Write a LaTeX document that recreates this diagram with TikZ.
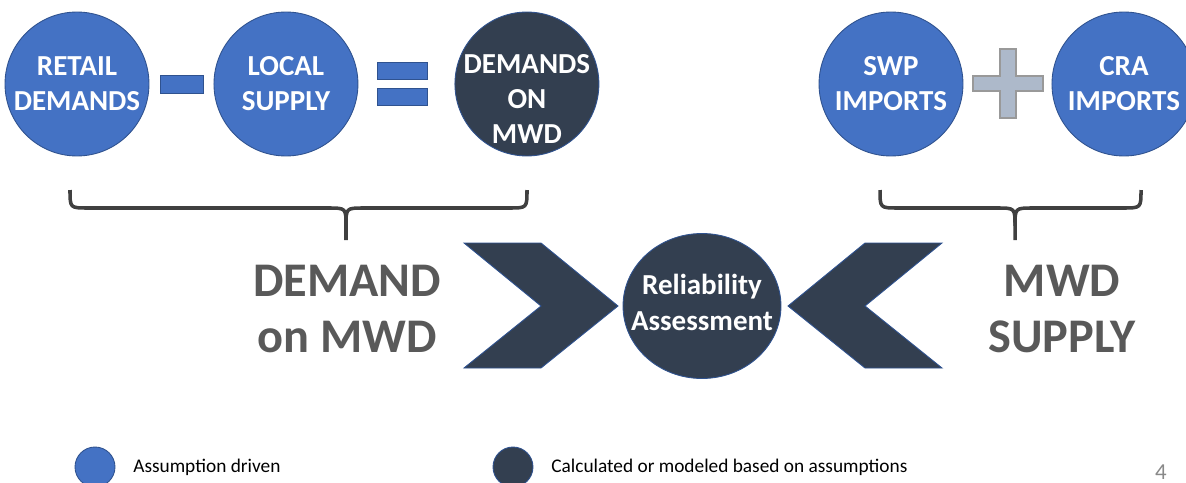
\documentclass[tikz,border=0pt]{standalone}
\usepackage{fontspec}
\setmainfont{Carlito}
\usetikzlibrary{positioning,shapes.geometric}
\definecolor{ablue}{HTML}{4472C4}
\definecolor{aedge}{HTML}{2F528F}
\definecolor{anavy}{HTML}{333F50}
\definecolor{agrey}{HTML}{595959}
\definecolor{abrace}{HTML}{404040}
\definecolor{aplus}{HTML}{ADB9CA}
\definecolor{apage}{HTML}{898989}

\begin{document}
\begin{tikzpicture}[x=0.02cm,y=-0.02cm,on grid,
    bubble/.style={circle,minimum size=2.88cm,inner sep=0pt,draw=aedge,line width=0.5pt,fill=ablue},
    calcbubble/.style={bubble,fill=anavy},
    word/.style={text=white,font=\fontsize{16.5}{20}\selectfont\bfseries,align=center,inner sep=0pt},
    big/.style={text=agrey,font=\fontsize{27.5}{32}\selectfont\bfseries,align=center},
    bar/.style={draw=aedge,line width=0.5pt,fill=ablue,inner sep=0pt},
    bracket/.style={draw=abrace,line width=2pt},
    chevron/.style={fill=anavy,draw=aedge,line width=0.5pt},
    key/.style={ellipse,minimum width=0.8cm,minimum height=0.8cm,inner sep=0pt,draw=aedge,line width=0.5pt},
    keytext/.style={anchor=west,font=\fontsize{11}{13}\selectfont,inner sep=0pt}]
    \useasboundingbox (0,0) rectangle (1186,483);

    \node[bubble,label={[word]center:{RETAIL\\DEMANDS}}] (retail) at (77,84) {};
    \node[bubble,label={[word]center:{LOCAL\\SUPPLY}}] (local) [right=4.18cm of retail] {};
    \node[calcbubble,label={[word,yshift=-0.3cm]center:{DEMANDS\\ON\\MWD}}] (mwddemand) [right=4.82cm of local] {};
    \node[bar,minimum width=0.86cm,minimum height=0.36cm] (minus) at (181.5,84) {};
    \node[bar,minimum width=1cm,minimum height=0.34cm] (eqtop) at (402,70.5) {};
    \node[bar,minimum width=1cm,minimum height=0.34cm] (eqbot) at (402,96.5) {};

    \node[bubble,label={[word]center:{SWP\\IMPORTS}}] (swp) at (891,84) {};
    \node[bubble,label={[word]center:{CRA\\IMPORTS}}] (cra) [right=4.66cm of swp] {};
    \draw[fill=aplus,draw=gray!80,line width=0.6pt] (1000,49) -- (1016,49) -- (1016,76) -- (1043,76) -- (1043,91)
        -- (1016,91) -- (1016,118) -- (1000,118) -- (1000,91) -- (973,91) -- (973,76) -- (1000,76) -- cycle;

    \draw[bracket] (70,190) .. controls (70,208) .. (88,208) -- (328,208) .. controls (346,208) .. (346,226) -- (346,240);
    \draw[bracket] (346,226) .. controls (346,208) .. (364,208) -- (509,208) .. controls (527,208) .. (527,190);
    \draw[bracket] (880,190) .. controls (880,208) .. (898,208) -- (997,208) .. controls (1015,208) .. (1015,226) -- (1015,240);
    \draw[bracket] (1015,226) .. controls (1015,208) .. (1033,208) -- (1123,208) .. controls (1141,208) .. (1141,190);

    \node[big] (demandtxt) at (347,309) {DEMAND\\on MWD};
    \node[big] (supplytxt) at (1062,309) {MWD\\SUPPLY};

    \draw[chevron] (464,243) -- (541,243) -- (618,306) -- (541,368) -- (464,368) -- (541,306) -- cycle;
    \draw[chevron] (942,243) -- (865,243) -- (788,306) -- (865,368) -- (942,368) -- (865,306) -- cycle;
    \node[ellipse,minimum width=3.16cm,minimum height=2.9cm,inner sep=0pt,fill=anavy,draw=aedge,line width=0.5pt,
        label={[word,yshift=0.07cm]center:{Reliability\\Assessment}}] (reliab) at (702,306) {};

    \node[key,fill=ablue] (keyblue) at (95,467) {};
    \node[keytext] (keybluetxt) at (133,467) {Assumption driven};
    \node[key,fill=anavy] (keynavy) at (513,467) {};
    \node[keytext] (keynavytxt) at (551,467) {Calculated or modeled based on assumptions};
    \node[text=apage,font=\fontsize{13}{15}\selectfont] (pagenum) at (1161,472) {4};
\end{tikzpicture}
\end{document}
